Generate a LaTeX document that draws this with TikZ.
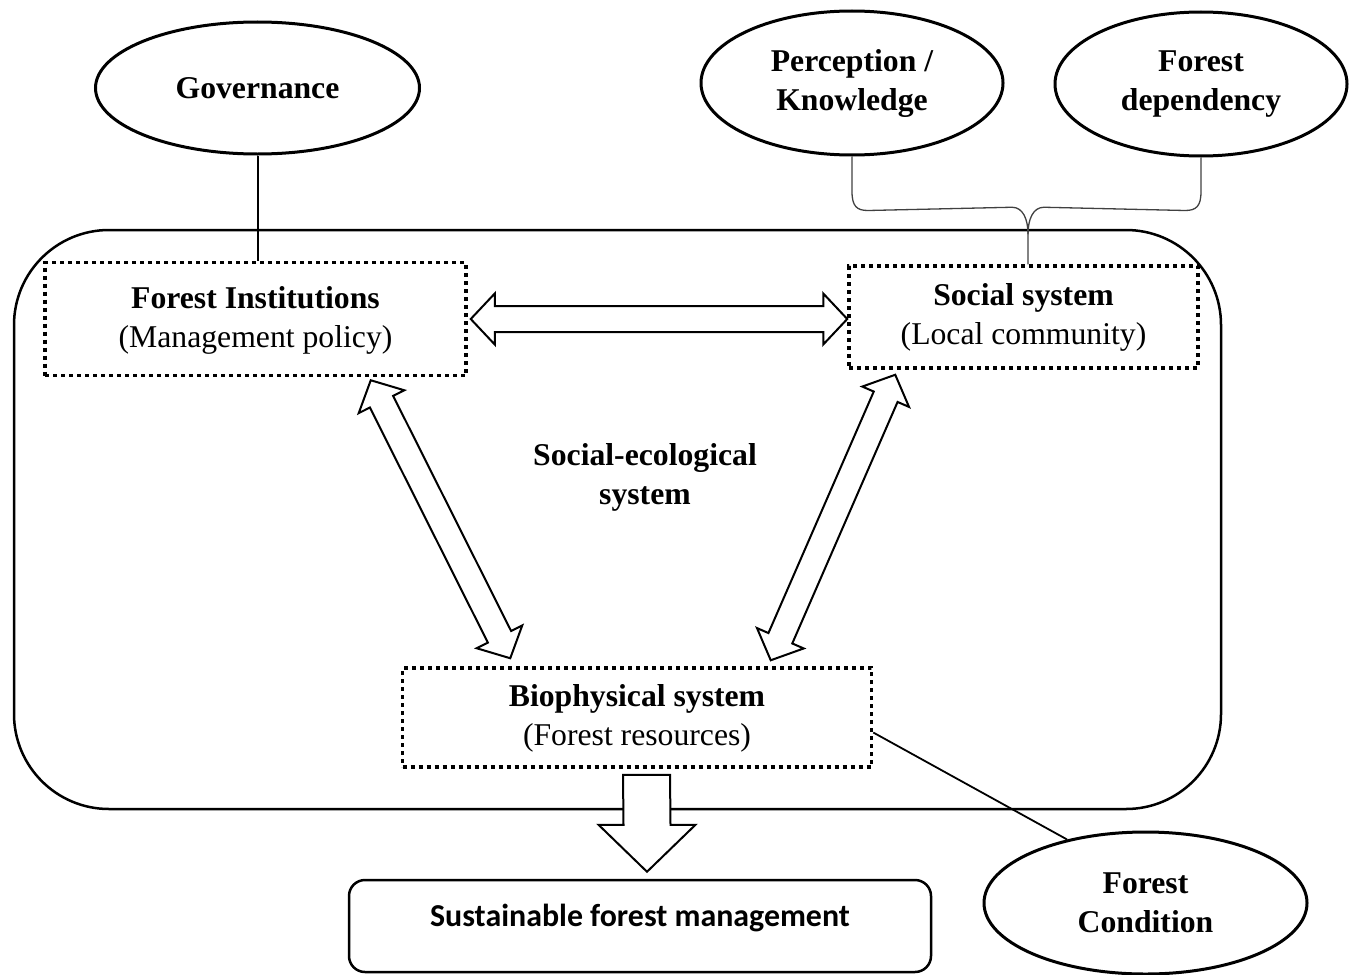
\documentclass[tikz,border=0pt]{standalone}
\usepackage{fontspec}
\setmainfont{Liberation Serif}
\newfontfamily\sfmfont{Carlito}
\usetikzlibrary{shapes.geometric,calc}
\tikzset{
  ell/.style={ellipse,draw,line width=3pt,align=center,inner sep=0pt,font=\fontsize{31.7}{39}\selectfont\bfseries},
  dotbox/.style={rectangle,draw,line width=3.5pt,dash pattern=on 4pt off 4pt,align=center,inner sep=0pt},
  blockarrow/.style={draw,line width=2pt,fill=white,line join=miter},
  thinline/.style={draw,line width=2pt},
  bracelinestyle/.style={draw,line width=1.3pt,black!75},
  frame/.style={rectangle,draw,line width=2.5pt,rounded corners=95pt,inner sep=0pt},
  sfmbox/.style={rectangle,draw,line width=2.5pt,rounded corners=16pt,inner sep=0pt}
}
\newcommand\dblarrow[5]{% tipA, tipB, shaft half width, head half width, head length
  \draw[blockarrow] (#1)
   -- ($(#1)!#5!(#2)!#4!90:(#2)$)
   -- ($(#1)!#5!(#2)!#3!90:(#2)$)
   -- ($(#2)!#5!(#1)!#3!-90:(#1)$)
   -- ($(#2)!#5!(#1)!#4!-90:(#1)$)
   -- (#2)
   -- ($(#2)!#5!(#1)!#4!90:(#1)$)
   -- ($(#2)!#5!(#1)!#3!90:(#1)$)
   -- ($(#1)!#5!(#2)!#3!-90:(#2)$)
   -- ($(#1)!#5!(#2)!#4!-90:(#2)$)
   -- cycle;}
\begin{document}
\begin{tikzpicture}[x=1pt,y=-1pt,font=\fontsize{31.7}{39}\selectfont]
\useasboundingbox (0,0) rectangle (1356,974);
% container
\node[frame,minimum width=1207pt,minimum height=579pt] (frame) at (617.5,519.5) {};
\node[font=\fontsize{31.7}{39}\selectfont\bfseries,align=center] (seslabel) at (645,477) {Social-ecological\\system};
% ellipses
\node[ell,minimum width=324pt,minimum height=132pt] (gov) at (257.5,88) {Governance};
\node[ell,minimum width=302pt,minimum height=144pt] (pk) at (852,83) {Perception /\\Knowledge};
\node[ell,minimum width=292pt,minimum height=144pt] (fd) at (1201,84) {Forest\\dependency};
\node[ell,minimum width=323pt,minimum height=142pt] (fc) at (1145.5,903) {Forest\\Condition};
% dotted boxes
\node[dotbox,minimum width=421pt,minimum height=113pt] (fi) at (255.5,319) {\rule{0pt}{5pt}\\[-20pt]\textbf{Forest Institutions}\\(Management policy)};
\node[dotbox,minimum width=349pt,minimum height=102pt] (ss) at (1023.5,317) {\textbf{Social system}\\(Local community)};
\node[dotbox,minimum width=469pt,minimum height=99pt] (bio) at (637,717.5) {\rule{0pt}{5pt}\\[-20pt]\textbf{Biophysical system}\\(Forest resources)};
% outcome box
\node[sfmbox,minimum width=582pt,minimum height=92pt] (sfm) at (640,926) {};
\node[font=\fontsize{31.9}{38}\sfmfont\bfseries] (sfmtext) at ($(sfm.center)+(0,-8)$) {Sustainable forest management};
% governance link
\draw[thinline] (gov.south) -- (gov.south |- fi.north);
% brace from the two ellipses to the social system
\coordinate (bt) at ($(ss.north)+(4.5,0)$);
\draw[bracelinestyle] (pk.south) -- ($(pk.south)+(0,35)$)
  .. controls ($(pk.south)+(0,50)$) and ($(pk.south)+(5,54)$) .. ($(pk.south)+(16,54)$)
  -- ($(bt)+(-16,-57)$)
  .. controls ($(bt)+(-5,-57)$) and ($(bt)+(0,-45)$) .. ($(bt)+(0,-30)$)
  -- (bt);
\draw[bracelinestyle] (fd.south) -- ($(fd.south)+(0,34)$)
  .. controls ($(fd.south)+(0,49)$) and ($(fd.south)+(-5,53)$) .. ($(fd.south)+(-16,53)$)
  -- ($(bt)+(16,-57)$)
  .. controls ($(bt)+(5,-57)$) and ($(bt)+(0,-45)$) .. ($(bt)+(0,-30)$);
% forest condition link
\draw[thinline,line width=1.8pt] (fc.141) -- ($(bio.east)+(0,15)$);
% double arrows
\coordinate (h1) at ($(fi.east)+(3,0)$);
\coordinate (h2) at (ss.west |- fi.east);
\dblarrow{h1}{h2}{13pt}{25.5pt}{24pt}
\coordinate (l1) at ($(fi.south east)+(-97,3)$);
\coordinate (l2) at ($(bio.north west)+(109.5,-8)$);
\dblarrow{l1}{l2}{13pt}{25.5pt}{24pt}
\coordinate (r1) at ($(ss.south west)+(48,5)$);
\coordinate (r2) at ($(bio.north east)+(-102.5,-6)$);
\dblarrow{r1}{r2}{13pt}{25.5pt}{24pt}
% down arrow
\coordinate (dt) at ($(bio.south)+(9.5,6)$);
\coordinate (dp) at ($(sfm.north)+(7,-7)$);
\draw[blockarrow] ($(dt)+(-23.5,0)$) -- ($(dt)+(23.5,0)$) -- ($(dp)+(23.5,-47)$)
  -- ($(dp)+(48.5,-47)$) -- (dp) -- ($(dp)+(-48.5,-47)$) -- ($(dp)+(-23.5,-47)$) -- cycle;
\end{tikzpicture}
\end{document}
